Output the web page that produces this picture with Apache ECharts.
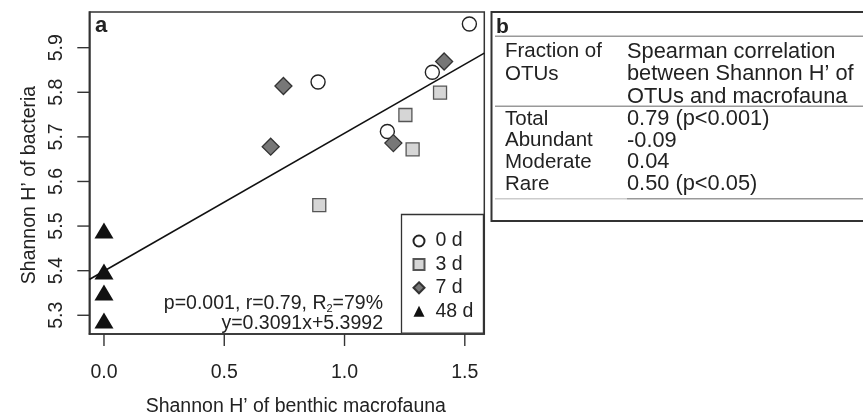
<!DOCTYPE html>
<html>
<head>
<meta charset="utf-8">
<script src="https://cdn.jsdelivr.net/npm/echarts@6/dist/echarts.min.js"></script>
<style>html,body{margin:0;padding:0;background:#fff}#chart{width:863px;height:414px}</style>
</head>
<body>
<div id="chart"></div>
<script>
// panel a: Shannon H' macrofauna (x) vs bacteria (y), per sampling time
var day0 = [[1.519, 5.953], [0.890, 5.823], [1.365, 5.845], [1.178, 5.712]];
var day3 = [[1.397, 5.799], [1.253, 5.749], [1.283, 5.672], [0.895, 5.547]];
var day7 = [[0.746, 5.814], [1.414, 5.869], [0.693, 5.678], [1.203, 5.686]];
var day48 = [[0, 5.490], [0, 5.398], [0, 5.351], [0, 5.288]];
var seriesNames = ['0 d', '3 d', '7 d', '48 d'];
var xTicks = [0, 0.5, 1.0, 1.5];
var yTicks = [5.3, 5.4, 5.5, 5.6, 5.7, 5.8, 5.9];
var slope = 0.3091, intercept = 5.3992;
var xMin = -0.061, xMax = 1.581, yMin = 5.258, yMax = 5.98;

// panel b: table
var headLeft = ['Fraction of', 'OTUs'];
var headRight = ['Spearman correlation', 'between Shannon H\u2019 of', 'OTUs and macrofauna'];
var fractions = ['Total', 'Abundant', 'Moderate', 'Rare'];
var spearman = ['0.79 (p<0.001)', '-0.09', '0.04', '0.50 (p<0.05)'];

var FONT = '"Liberation Sans", Arial, sans-serif';
var INK = '#222';
var TICK = 12;

var fitLine = [[xMin, slope * xMin + intercept], [xMax, slope * xMax + intercept]];

/* tabla (panel b) con graphic */
var tbl = [];
tbl.push({type: 'rect', shape: {x: 491.5, y: 12, width: 420, height: 209}, style: {fill: 'none', stroke: '#333', lineWidth: 2}, z: 10});
tbl.push({type: 'text', style: {text: 'b', x: 496, y: 27, verticalAlign: 'middle', font: 'bold 21px ' + FONT, fill: INK}, z: 10});
[36.3, 106.3].forEach(function (y) {
  tbl.push({type: 'line', shape: {x1: 495, y1: y, x2: 863, y2: y}, style: {stroke: '#999', lineWidth: 1.5}, z: 10});
});
tbl.push({type: 'line', shape: {x1: 495, y1: 198.7, x2: 627, y2: 198.7}, style: {stroke: '#ccc', lineWidth: 1.5}, z: 10});
tbl.push({type: 'line', shape: {x1: 627, y1: 198.7, x2: 863, y2: 198.7}, style: {stroke: '#999', lineWidth: 1.5}, z: 10});
headLeft.forEach(function (t, i) {
  tbl.push({type: 'text', style: {text: t, x: 505, y: 51.5 + i * 22.5, verticalAlign: 'middle', font: '20.5px ' + FONT, fill: INK}, z: 10});
});
headRight.forEach(function (t, i) {
  tbl.push({type: 'text', style: {text: t, x: 627, y: 51.5 + i * 22.5, verticalAlign: 'middle', font: '21.8px ' + FONT, fill: INK}, z: 10});
});
fractions.forEach(function (t, i) {
  tbl.push({type: 'text', style: {text: t, x: 505, y: 119 + i * 21.7, verticalAlign: 'middle', font: '20.5px ' + FONT, fill: INK}, z: 10});
  tbl.push({type: 'text', style: {text: spearman[i], x: 627, y: 119 + i * 21.7, verticalAlign: 'middle', font: '21.8px ' + FONT, fill: INK}, z: 10});
});

// marcas de eje (ticks hacia fuera) dibujadas con la escala del grid
function tickSeries(values, vertical) {
  return {
    type: 'custom', silent: true, clip: false, z: 5,
    data: values.map(function (v) { return vertical ? [xMin, v] : [v, yMin]; }),
    renderItem: function (params, api) {
      var p = api.coord([api.value(0), api.value(1)]);
      var shape = vertical
        ? {x1: p[0] - TICK, y1: p[1], x2: p[0], y2: p[1]}
        : {x1: p[0], y1: p[1], x2: p[0], y2: p[1] + TICK};
      return {type: 'line', shape: shape, style: {stroke: '#333', lineWidth: 1.4}};
    }
  };
}

var chart = echarts.init(document.getElementById('chart'));
chart.setOption({
  animation: false,
  textStyle: {fontFamily: FONT},
  grid: {left: 89.3, top: 12, right: 378.7, bottom: 80, outerBoundsMode: 'none', containLabel: false,
    show: true, borderColor: '#333', borderWidth: 1.5},
  xAxis: {
    type: 'value', min: xMin, max: xMax,
    name: 'Shannon H\u2019 of benthic macrofauna', nameLocation: 'middle', nameGap: 63,
    nameTextStyle: {fontSize: 19.5, color: INK, padding: [0, 0, 0, 18]},
    axisLine: {show: true, onZero: false, lineStyle: {color: '#333', width: 1.5}}, splitLine: {show: false},
    axisTick: {show: false},
    axisLabel: {customValues: xTicks, fontSize: 19.5, color: INK, margin: 28.5, formatter: function (v) { return v.toFixed(1); }}
  },
  yAxis: {
    type: 'value', min: yMin, max: yMax,
    name: 'Shannon H\u2019 of bacteria', nameLocation: 'middle', nameGap: 50,
    nameTextStyle: {fontSize: 19.5, color: INK, padding: [0, 24, 0, 0]},
    axisLine: {show: true, onZero: false, lineStyle: {color: '#333', width: 1.5}}, splitLine: {show: false},
    axisTick: {show: false},
    axisLabel: {customValues: yTicks, fontSize: 19.5, color: INK, margin: 23, rotate: 90, formatter: function (v) { return v.toFixed(1); }}
  },
  legend: {
    orient: 'vertical', left: 401.5, top: 214.5,
    padding: [16.5, 10, 12, 11],
    itemWidth: 11, itemHeight: 11, itemGap: 3.4,
    borderColor: '#333', borderWidth: 1.3, backgroundColor: '#fff',
    textStyle: {fontSize: 19.5, color: INK, padding: [0, 0, 0, 6]},
    data: seriesNames
  },
  graphic: [
    {type: 'text', style: {text: 'a', x: 95, y: 26, verticalAlign: 'middle', font: 'bold 22px ' + FONT, fill: INK}, z: 10},
    {type: 'text', style: {text: 'p=0.001, r=0.79, R{s|2}=79%', x: 383, y: 304, align: 'right', verticalAlign: 'middle', font: '19.5px ' + FONT, fill: INK,
      rich: {s: {fontSize: 11, fill: INK, verticalAlign: 'bottom', padding: [8, 0, 0, 0], fontFamily: FONT}}}, z: 10},
    {type: 'text', style: {text: 'y=0.3091x+5.3992', x: 383, y: 324, align: 'right', verticalAlign: 'middle', font: '19.5px ' + FONT, fill: INK}, z: 10}
  ].concat(tbl),
  series: [
    {name: 'fit', type: 'line', data: fitLine, symbol: 'none', silent: true, lineStyle: {color: '#111', width: 1.6}, z: 1},
    {name: seriesNames[0], type: 'scatter', data: day0, symbol: 'circle', symbolSize: 14,
      itemStyle: {color: '#fff', borderColor: '#222', borderWidth: 1.4, opacity: 1}, z: 3},
    {name: seriesNames[1], type: 'scatter', data: day3, symbol: 'rect', symbolSize: 13,
      itemStyle: {color: '#d6d6d6', borderColor: '#555', borderWidth: 1.3, opacity: 1}, z: 3},
    {name: seriesNames[2], type: 'scatter', data: day7, symbol: 'diamond', symbolSize: 17,
      itemStyle: {color: '#777', borderColor: '#333', borderWidth: 1.3, opacity: 1}, z: 3},
    {name: seriesNames[3], type: 'scatter', data: day48, symbol: 'triangle', symbolSize: [19, 16],
      itemStyle: {color: '#111', opacity: 1}, z: 3},
    tickSeries(xTicks, false),
    tickSeries(yTicks, true)
  ]
});
</script>
</body>
</html>
